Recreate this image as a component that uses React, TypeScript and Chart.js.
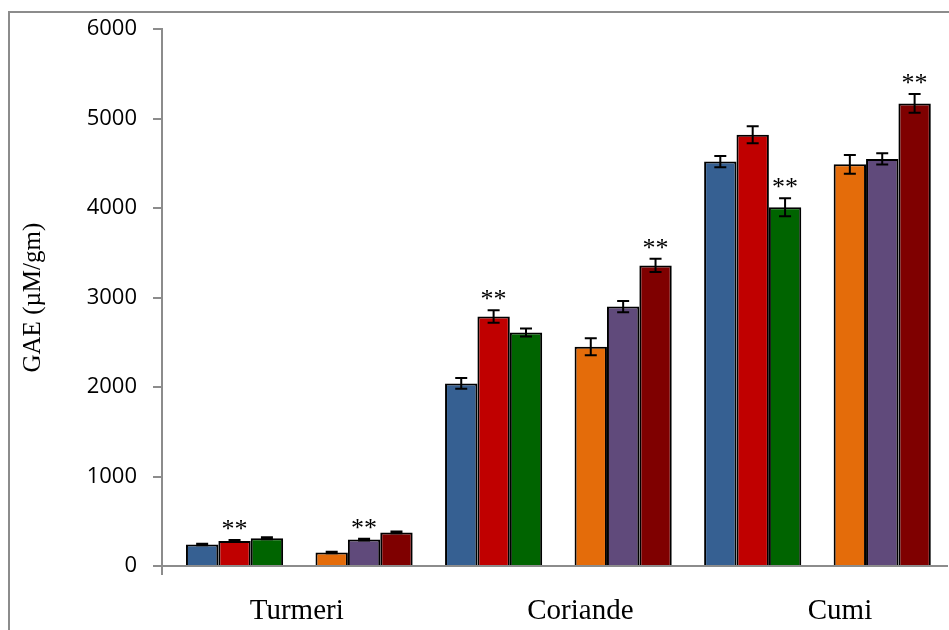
import React, { useEffect, useRef } from 'react';
import { Chart, registerables } from 'chart.js';

Chart.register(...registerables);

// ---- data ----
const categories = ['Turmeri', 'Coriande', 'Cumi'];
const categoryIndex = [0, 1, 2];
// label positions relative to the category centre (labels sit slightly off-centre in the source)
const labelShift = [-0.01, 0.085, 0.087];

const blueValues = [240, 2040, 4520];
const blueErrors = [8, 60, 63];
const redValues = [280, 2790, 4820];
const redErrors = [12, 70, 95];
const greenValues = [310, 2610, 4010];
const greenErrors = [10, 45, 100];
const orangeValues = [150, 2450, 4490];
const orangeErrors = [8, 95, 105];
const purpleValues = [295, 2900, 4550];
const purpleErrors = [10, 63, 63];
const darkRedValues = [375, 3360, 5170];
const darkRedErrors = [10, 75, 105];

// "**" significance markers per series
const blueMarks = [false, false, false];
const redMarks = [true, true, false];
const greenMarks = [false, false, true];
const orangeMarks = [false, false, false];
const purpleMarks = [true, false, false];
const darkRedMarks = [false, true, true];

const yTicks = [0, 1000, 2000, 3000, 4000, 5000, 6000];

const GRAY = '#8c8c8c';

const toPoints = (vals: number[]) => vals.map((v, i) => ({ x: categoryIndex[i], y: v }));

const errorBarsPlugin = {
  id: 'errorBars',
  afterDatasetsDraw(chart: any) {
    const ctx = chart.ctx;
    const yScale = chart.scales.y;
    chart.data.datasets.forEach((ds: any, di: number) => {
      if (!ds.errors) return;
      const meta = chart.getDatasetMeta(di);
      meta.data.forEach((bar: any, i: number) => {
        const v = ds.data[i].y;
        const e = ds.errors[i];
        const top = yScale.getPixelForValue(v + e);
        const bot = yScale.getPixelForValue(v - e);
        const cap = 6;
        ctx.save();
        ctx.strokeStyle = '#000';
        ctx.lineWidth = 2;
        ctx.beginPath();
        ctx.moveTo(bar.x, top);
        ctx.lineTo(bar.x, bot);
        ctx.moveTo(bar.x - cap, top);
        ctx.lineTo(bar.x + cap, top);
        ctx.moveTo(bar.x - cap, bot);
        ctx.lineTo(bar.x + cap, bot);
        ctx.stroke();
        if (ds.marks && ds.marks[i]) {
          ctx.fillStyle = '#000';
          ctx.font = '26px "Liberation Serif"';
          ctx.textAlign = 'center';
          ctx.textBaseline = 'alphabetic';
          ctx.fillText('**', bar.x, top - 3);
        }
        ctx.restore();
      });
    });
  },
  afterDraw(chart: any) {
    const { ctx, chartArea } = chart;
    ctx.save();
    ctx.strokeStyle = GRAY;
    ctx.lineWidth = 2;
    ctx.beginPath();
    ctx.moveTo(chartArea.left, chartArea.bottom);
    ctx.lineTo(chartArea.left, chartArea.bottom + 9);
    ctx.stroke();
    ctx.restore();
  },
};

export default function App() {
  const canvasRef = useRef<HTMLCanvasElement | null>(null);

  useEffect(() => {
    document.body.style.margin = '0';
    const canvas = canvasRef.current;
    if (!canvas) return;

    const mk = (label: string, color: string, values: number[], errors: number[], marks: boolean[]) => ({
      label,
      data: toPoints(values),
      backgroundColor: color,
      borderColor: '#000',
      borderWidth: 2,
      errors,
      marks,
    });

    const chart = new Chart(canvas, {
      type: 'bar',
      data: {
        datasets: [
          mk('Series 1', '#366092', blueValues, blueErrors, blueMarks),
          mk('Series 2', '#C00000', redValues, redErrors, redMarks),
          mk('Series 3', '#006400', greenValues, greenErrors, greenMarks),
          {
            label: '',
            data: toPoints([0, 0, 0]),
            backgroundColor: 'rgba(0,0,0,0)',
            borderColor: 'rgba(0,0,0,0)',
            borderWidth: 0,
          },
          mk('Series 4', '#E46C0A', orangeValues, orangeErrors, orangeMarks),
          mk('Series 5', '#604A7B', purpleValues, purpleErrors, purpleMarks),
          mk('Series 6', '#7F0000', darkRedValues, darkRedErrors, darkRedMarks),
        ] as any,
      },
      options: {
        animation: false,
        responsive: false,
        maintainAspectRatio: false,
        events: [],
        layout: { padding: { top: 28, right: 2, left: 0, bottom: 0 } },
        datasets: {
          bar: {
            categoryPercentage: 0.875,
            barPercentage: 1,
          },
        },
        plugins: {
          legend: { display: false },
          tooltip: { enabled: false },
          title: { display: false },
        },
        scales: {
          x: {
            type: 'linear',
            min: -0.53,
            max: 2.5,
            bounds: 'data',
            offset: false,
            grid: { display: false, drawTicks: false, offset: false },
            border: { display: true, color: GRAY, width: 2 },
            afterBuildTicks: (scale: any) => {
              scale.ticks = categoryIndex.map((c, i) => ({ value: c + labelShift[i] }));
            },
            afterFit: (scale: any) => {
              scale.height = 64;
            },
            ticks: {
              autoSkip: false,
              maxRotation: 0,
              padding: 28,
              color: '#000',
              font: { family: '"Liberation Serif"', size: 29 },
              callback: (_v: any, i: number) => categories[i],
            },
          },
          y: {
            min: 0,
            max: 6000,
            afterBuildTicks: (scale: any) => {
              scale.ticks = yTicks.map((v) => ({ value: v }));
            },
            afterFit: (scale: any) => {
              scale.width = 162;
            },
            grid: {
              drawOnChartArea: false,
              drawTicks: true,
              tickLength: 9,
              color: GRAY,
              lineWidth: 2,
            },
            border: { display: true, color: GRAY, width: 2 },
            ticks: {
              padding: 16,
              color: '#000',
              font: { family: '"Open Sans"', size: 22 },
              callback: (v: any) => String(v),
            },
            title: {
              display: true,
              text: 'GAE (µM/gm)',
              color: '#000',
              font: { family: '"Liberation Serif"', size: 25 },
              padding: { top: 18, bottom: 0 },
            },
          },
        },
      } as any,
      plugins: [errorBarsPlugin],
    });

    return () => chart.destroy();
  }, []);

  return (
    <div style={{ position: 'relative', width: 949, height: 630, overflow: 'hidden', background: '#fff' }}>
      <div
        style={{
          position: 'absolute',
          left: 8,
          top: 11,
          width: 2000,
          height: 2000,
          borderLeft: `2px solid ${GRAY}`,
          borderTop: `2px solid ${GRAY}`,
        }}
      />
      <canvas
        ref={canvasRef}
        width={949}
        height={630}
        style={{ position: 'absolute', left: 0, top: 0, width: 949, height: 630 }}
      />
    </div>
  );
}
